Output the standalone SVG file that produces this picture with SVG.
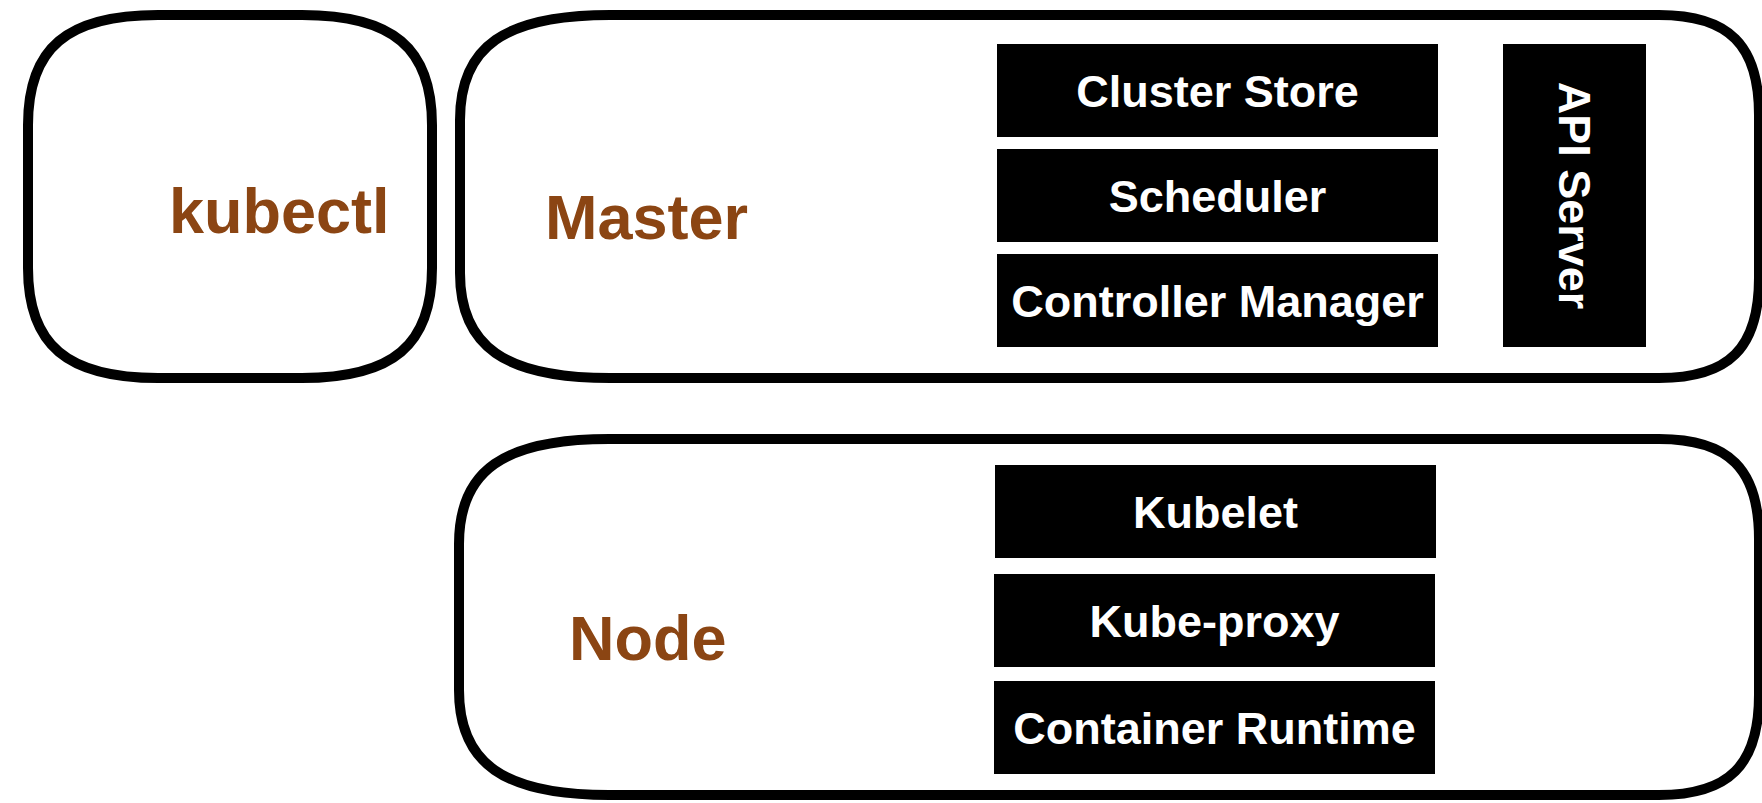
<svg xmlns="http://www.w3.org/2000/svg" width="1762" height="803" viewBox="0 0 1762 803">
<style>
.frame{fill:#fff;stroke:#000;stroke-width:10}
.title{font-family:"Liberation Sans",Arial,sans-serif;font-weight:bold;font-size:63px;fill:#8B4513}
.comp{fill:#000}
.lbl{font-family:"Liberation Sans",Arial,sans-serif;font-weight:bold;font-size:45px;fill:#fff;text-anchor:middle}
</style>
<rect width="1762" height="803" fill="#fff"/>
<g id="kubectl">
<path class="frame" d="M158,15 H302 C393,15 432,48 432,125 V268 C432,345 393,378 302,378 H158 C67,378 28,345 28,268 V125 C28,48 67,15 158,15 Z"/>
<text class="title" x="169" y="233">kubectl</text>
</g>
<g id="master">
<path class="frame" d="M610,15 H1659 C1729,15 1759,45 1759,115 V278 C1759,348 1729,378 1659,378 H610 C505,378 460,346.5 460,273 V120 C460,46.5 505,15 610,15 Z"/>
<text class="title" x="545" y="239">Master</text>
</g>
<g id="cluster-store">
<rect class="comp" x="997" y="44" width="441" height="93"/>
<text class="lbl" x="1217.5" y="106.5">Cluster Store</text>
</g>
<g id="scheduler">
<rect class="comp" x="997" y="149" width="441" height="93"/>
<text class="lbl" x="1217.5" y="211.5">Scheduler</text>
</g>
<g id="controller-manager">
<rect class="comp" x="997" y="254" width="441" height="93"/>
<text class="lbl" x="1217.5" y="316.5">Controller Manager</text>
</g>
<g id="api-server">
<rect class="comp" x="1503" y="44" width="143" height="303"/>
<text class="lbl" transform="translate(1574.5,195.5) rotate(90)" x="0" y="16">API Server</text>
</g>
<g id="node">
<path class="frame" d="M609,439 H1659 C1729,439 1759,469 1759,539 V695 C1759,765 1729,795 1659,795 H609 C504,795 459,763.5 459,690 V544 C459,470.5 504,439 609,439 Z"/>
<text class="title" x="569" y="660">Node</text>
</g>
<g id="kubelet">
<rect class="comp" x="995" y="465" width="441" height="93"/>
<text class="lbl" x="1215.5" y="527.5">Kubelet</text>
</g>
<g id="kube-proxy">
<rect class="comp" x="994" y="574" width="441" height="93"/>
<text class="lbl" x="1214.5" y="636.5">Kube-proxy</text>
</g>
<g id="container-runtime">
<rect class="comp" x="994" y="681" width="441" height="93"/>
<text class="lbl" x="1214.5" y="743.5">Container Runtime</text>
</g>
<g id="connectors"></g>
</svg>
